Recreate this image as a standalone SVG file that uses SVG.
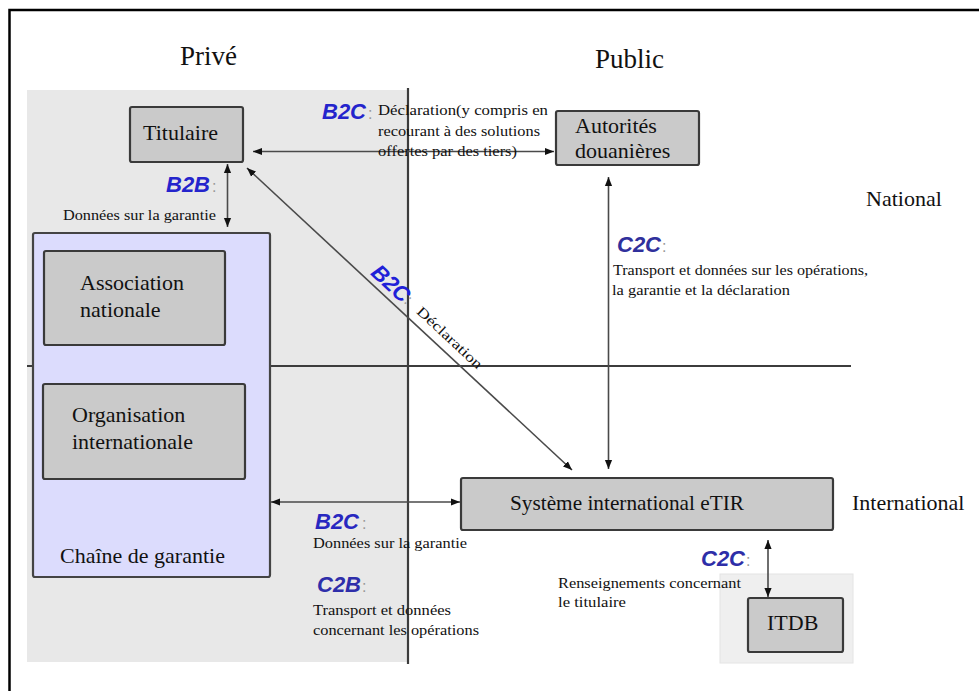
<svg xmlns="http://www.w3.org/2000/svg" width="979" height="691" viewBox="0 0 979 691">
<defs>
<style>
.box{fill:#cacaca;stroke:#3a3a3a;stroke-width:2.2}
.t{font-family:"Liberation Serif","Times New Roman",serif;fill:#111}
.n{font-size:22px}
.s{font-size:15px}
.k{font-family:"Liberation Sans",Arial,sans-serif;font-weight:bold;font-style:italic;font-size:22px}
.c{font-family:"Liberation Sans",Arial,sans-serif;font-size:16px;fill:#999}
.ln{stroke:#4a4a4a;stroke-width:1.6;fill:none}
.ax{stroke:#3c3c3c;stroke-width:2.2;fill:none}
</style>
<marker id="ah" viewBox="0 0 10 10" refX="10" refY="5" markerWidth="9" markerHeight="9" markerUnits="userSpaceOnUse" orient="auto-start-reverse">
<path d="M0,1 L10,5 L0,9 z" fill="#111"/>
</marker>
</defs>
<rect width="979" height="691" fill="#fff"/>
<g id="background">
<rect x="27" y="90" width="381" height="572" fill="#e8e8e8"/>
<rect x="720" y="574" width="133" height="89" fill="#efefef" stroke="#e4e4e4" stroke-width="1"/>
<path class="ax" d="M408,88 V664"/>
<path class="ax" d="M27,366 H851"/>
<path d="M9.5,691 V10 H979" fill="none" stroke="#000" stroke-width="2.5"/>
</g>
<g id="headings">
<text class="t" x="180" y="65" font-size="27">Privé</text>
<text class="t" x="595" y="68" font-size="27">Public</text>
<text class="t n" x="866" y="206">National</text>
<text class="t n" x="852" y="510">International</text>
</g>
<g id="chaine">
<rect x="33" y="233" width="237" height="344" rx="2" fill="#dcdcfd" stroke="#444" stroke-width="2.2"/>
<text class="t n" x="60" y="563">Chaîne de garantie</text>
</g>
<g id="titulaire">
<rect class="box" x="130" y="107" width="113" height="55" rx="2"/>
<text class="t n" x="143" y="140">Titulaire</text>
</g>
<g id="autorites">
<rect class="box" x="556" y="111" width="143" height="54" rx="2"/>
<text class="t n" x="575" y="133">Autorités</text>
<text class="t n" x="575" y="158">douanières</text>
</g>
<g id="association">
<rect class="box" x="44" y="251" width="181" height="94" rx="2"/>
<text class="t n" x="80" y="290">Association</text>
<text class="t n" x="80" y="317">nationale</text>
</g>
<g id="organisation">
<rect class="box" x="43" y="384" width="202" height="95" rx="2"/>
<text class="t n" x="72" y="422">Organisation</text>
<text class="t n" x="72" y="449">internationale</text>
</g>
<g id="etir">
<rect class="box" x="461" y="478" width="372" height="52" rx="2"/>
<text class="t n" x="510" y="510" textLength="234" lengthAdjust="spacingAndGlyphs">Système international eTIR</text>
</g>
<g id="itdb">
<rect class="box" x="748" y="598" width="95" height="54" rx="2"/>
<text class="t n" x="767" y="630">ITDB</text>
</g>
<g id="connectors">
<path class="ln" d="M253,151.5 H554" marker-start="url(#ah)" marker-end="url(#ah)"/>
<path class="ln" d="M227.5,164 V227" marker-start="url(#ah)" marker-end="url(#ah)"/>
<path class="ln" d="M247,168 L572,470" marker-start="url(#ah)" marker-end="url(#ah)"/>
<path class="ln" d="M608.5,177 V469" marker-start="url(#ah)" marker-end="url(#ah)"/>
<path class="ln" d="M271,502 H460" marker-start="url(#ah)" marker-end="url(#ah)"/>
<path class="ln" d="M768,540 V597" marker-start="url(#ah)" marker-end="url(#ah)"/>
</g>
<g id="labels">
<text class="k" x="322" y="119" fill="#2424cc">B2C</text><text class="c" x="368" y="119">:</text>
<text class="t s" x="378" y="115" textLength="170" lengthAdjust="spacingAndGlyphs">Déclaration(y compris en</text>
<text class="t s" x="378" y="136" textLength="162" lengthAdjust="spacingAndGlyphs">recourant à des solutions</text>
<text class="t s" x="378" y="156" textLength="139" lengthAdjust="spacingAndGlyphs">offertes par des tiers)</text>

<text class="k" x="166" y="192" fill="#2424cc">B2B</text><text class="c" x="212" y="192">:</text>
<text class="t s" x="63" y="220" textLength="153" lengthAdjust="spacingAndGlyphs">Données sur la garantie</text>

<g transform="translate(247,168) rotate(42.9)">
<text class="k" x="162" y="-6" fill="#2020d8">B2C</text><text class="c" x="206" y="-8" font-size="13">:</text>
<text class="t" x="222" y="-9" font-size="14" textLength="84" lengthAdjust="spacingAndGlyphs">Déclaration</text>
</g>

<text class="k" x="617" y="252" fill="#30309c">C2C</text><text class="c" x="662" y="252">:</text>
<text class="t s" x="613" y="275" textLength="255" lengthAdjust="spacingAndGlyphs">Transport et données sur les opérations,</text>
<text class="t s" x="612" y="295" textLength="178" lengthAdjust="spacingAndGlyphs">la garantie et la déclaration</text>

<text class="k" x="315" y="529" fill="#2828c0">B2C</text><text class="c" x="362" y="529">:</text>
<text class="t s" x="313" y="548" textLength="154" lengthAdjust="spacingAndGlyphs">Données sur la garantie</text>

<text class="k" x="317" y="592" fill="#2e2eaa">C2B</text><text class="c" x="362" y="592">:</text>
<text class="t s" x="313" y="615" textLength="138" lengthAdjust="spacingAndGlyphs">Transport et données</text>
<text class="t s" x="313" y="635" textLength="166" lengthAdjust="spacingAndGlyphs">concernant les opérations</text>

<text class="k" x="701" y="566" fill="#2e2ea8">C2C</text><text class="c" x="746" y="566">:</text>
<text class="t s" x="558" y="588" textLength="183" lengthAdjust="spacingAndGlyphs">Renseignements concernant</text>
<text class="t s" x="558" y="607" textLength="68" lengthAdjust="spacingAndGlyphs">le titulaire</text>
</g>
</svg>
